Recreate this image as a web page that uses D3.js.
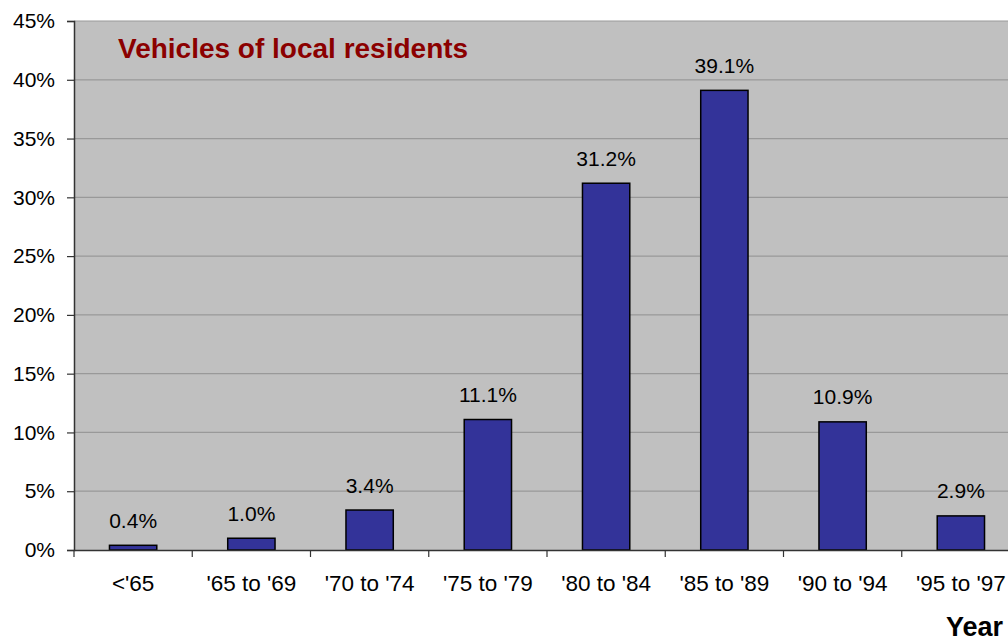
<!DOCTYPE html>
<html><head><meta charset="utf-8">
<script src="https://cdn.jsdelivr.net/npm/d3@7"></script>
<style>body{margin:0;background:#fff;}svg{display:block;font-family:"Liberation Sans",Arial,sans-serif;}</style>
</head><body>
<script>
const categories = ["<'65","'65 to '69","'70 to '74","'75 to '79","'80 to '84","'85 to '89","'90 to '94","'95 to '97"];
const values = [0.4, 1.0, 3.4, 11.1, 31.2, 39.1, 10.9, 2.9];
const yTicks = [0,5,10,15,20,25,30,35,40,45];
const title = "Vehicles of local residents";
const xTitle = "Year";

const W = 1008, H = 642;
const m = {left:74, top:21, right:-12, bottom:92};
const svg = d3.select("body").append("svg").attr("width",W).attr("height",H);
const x = d3.scaleBand().domain(categories).range([m.left, W - m.right]).paddingInner(0.6).paddingOuter(0.3);
const xb = d3.scaleBand().domain(categories).range([m.left, W - m.right]);
const y = d3.scaleLinear().domain([0,45]).range([H - m.bottom, m.top]);

svg.append("rect").attr("x",m.left).attr("y",m.top).attr("width",W-m.right-m.left).attr("height",y(0)-m.top).attr("fill","#c0c0c0");

svg.append("g").selectAll("line").data(yTicks.slice(1)).join("line")
  .attr("x1",m.left).attr("x2",W-m.right).attr("y1",d=>y(d)).attr("y2",d=>y(d))
  .attr("stroke","#999").attr("stroke-width",1.2);

svg.append("g").selectAll("rect").data(values).join("rect")
  .attr("x",(d,i)=>x(categories[i])).attr("width",x.bandwidth())
  .attr("y",d=>y(d)).attr("height",d=>y(0)-y(d))
  .attr("fill","#333399").attr("stroke","#000").attr("stroke-width",1.5);

svg.append("g").selectAll("text").data(values).join("text")
  .attr("x",(d,i)=>x(categories[i])+x.bandwidth()/2).attr("y",d=>y(d)-17.5)
  .attr("text-anchor","middle").attr("font-size",21).attr("fill","#000")
  .text(d=>d.toFixed(1)+"%");

// y axis
const ya = svg.append("g").attr("transform",`translate(${m.left},0)`)
  .call(d3.axisLeft(y).tickValues(yTicks).tickFormat(d=>d+"%").tickSize(7).tickPadding(12));
ya.select(".domain").attr("stroke","#333").attr("stroke-width",1.5);
ya.selectAll(".tick line").attr("stroke","#333").attr("stroke-width",1.2);
ya.selectAll("text").attr("font-size",21).attr("fill","#000").attr("font-family","Liberation Sans, Arial, sans-serif");

// x axis
const xa = svg.append("g").attr("transform",`translate(0,${y(0)})`)
  .call(d3.axisBottom(xb).tickSize(0).tickPadding(0));
xa.select(".domain").attr("stroke","#333").attr("stroke-width",1.5);
xa.selectAll("text").attr("font-size",22.5).attr("fill","#000").attr("dy",null).attr("y",41)
  .attr("font-family","Liberation Sans, Arial, sans-serif");
svg.append("g").selectAll("line").data(categories).join("line")
  .attr("x1",d=>xb(d)).attr("x2",d=>xb(d)).attr("y1",y(0)).attr("y2",y(0)+7)
  .attr("stroke","#333").attr("stroke-width",1.2);

svg.append("text").attr("x",118).attr("y",57.5).attr("font-size",28).attr("font-weight","bold")
  .attr("fill","#8b0000").text(title);
svg.append("text").attr("x",1003).attr("y",636).attr("text-anchor","end").attr("font-size",27)
  .attr("font-weight","bold").attr("fill","#000").text(xTitle);
</script>
</body></html>
